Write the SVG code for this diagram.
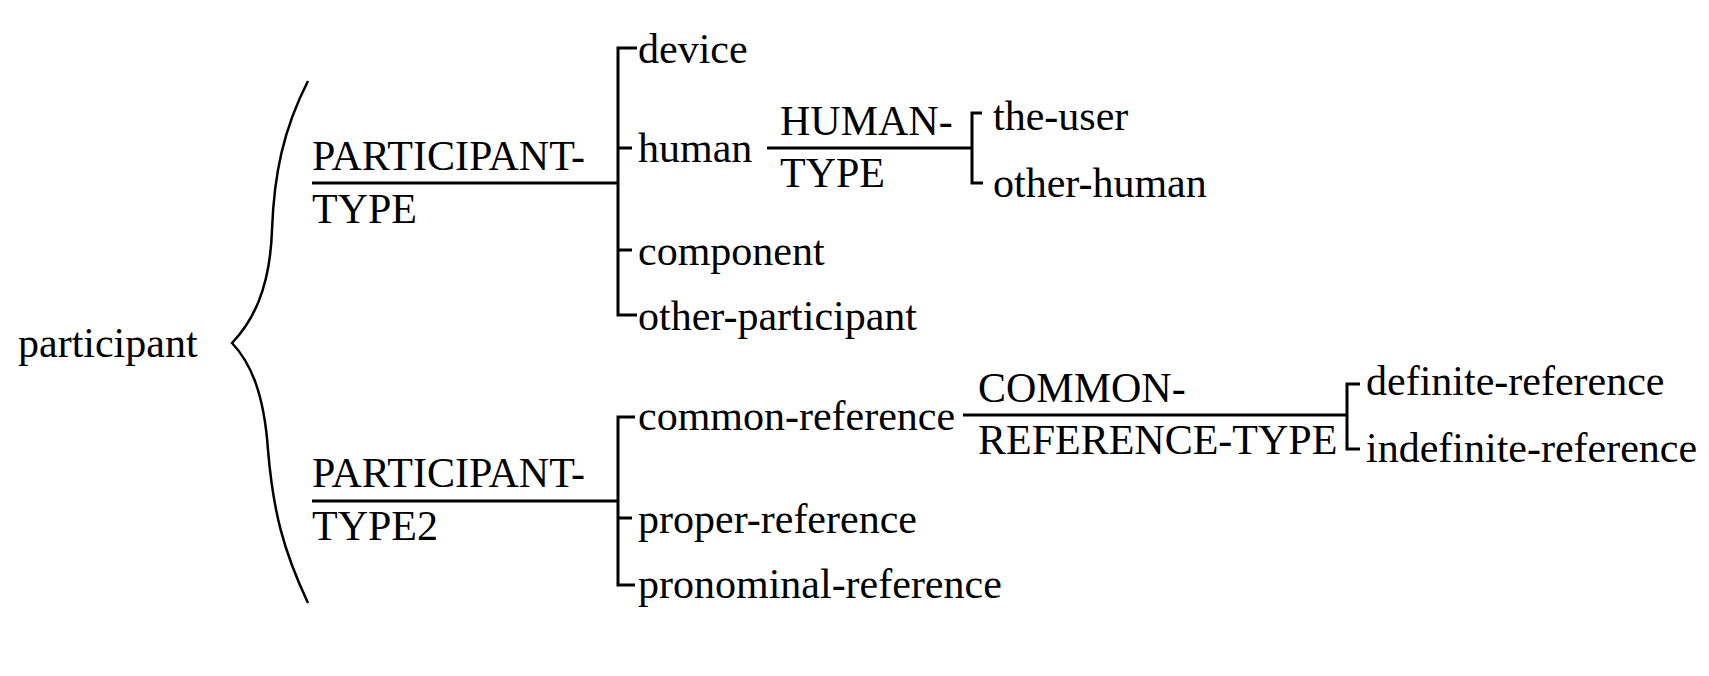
<svg xmlns="http://www.w3.org/2000/svg" width="1709" height="676" viewBox="0 0 1709 676">
<style>
text{font-family:"Liberation Serif","Times New Roman",serif;font-size:42px;fill:#000}
.ln{stroke:#000;stroke-width:3;fill:none}
.br{stroke:#000;stroke-width:2.5;fill:none}
</style>
<rect width="1709" height="676" fill="#fff"/>
<g id="connectors">
<path class="br" d="M308,81 C283,130 274,175 272,230 C270,290 252,322 232,343 C250,362 264,392 268,450 C273,510 283,550 308,603"/>
<path class="ln" d="M312,183 H618 M637,48 H618 V315 H637 M618,148 H632 M618,250 H632"/>
<path class="ln" d="M767,148 H972 M982,113 H972 V183 H983"/>
<path class="ln" d="M312,501 H618 M635,417 H618 V585 H635 M618,518 H632"/>
<path class="ln" d="M963,415 H1347 M1360,384 H1347 V449 H1360"/>
</g>
<g id="participant"><text x="18" y="357">participant</text></g>
<g id="participant-type"><text x="312" y="170">PARTICIPANT-</text><text x="312" y="223">TYPE</text></g>
<g id="device"><text x="638" y="63">device</text></g>
<g id="human"><text x="638" y="162">human</text></g>
<g id="component"><text x="638" y="265">component</text></g>
<g id="other-participant"><text x="638" y="330">other-participant</text></g>
<g id="human-type"><text x="780" y="135">HUMAN-</text><text x="780" y="187">TYPE</text></g>
<g id="the-user"><text x="993" y="130">the-user</text></g>
<g id="other-human"><text x="993" y="197">other-human</text></g>
<g id="participant-type2"><text x="312" y="487">PARTICIPANT-</text><text x="312" y="540">TYPE2</text></g>
<g id="common-reference"><text x="638" y="430">common-reference</text></g>
<g id="proper-reference"><text x="638" y="533">proper-reference</text></g>
<g id="pronominal-reference"><text x="638" y="598">pronominal-reference</text></g>
<g id="common-reference-type"><text x="978" y="402">COMMON-</text><text x="978" y="454">REFERENCE-TYPE</text></g>
<g id="definite-reference"><text x="1366" y="395">definite-reference</text></g>
<g id="indefinite-reference"><text x="1366" y="462">indefinite-reference</text></g>
</svg>
